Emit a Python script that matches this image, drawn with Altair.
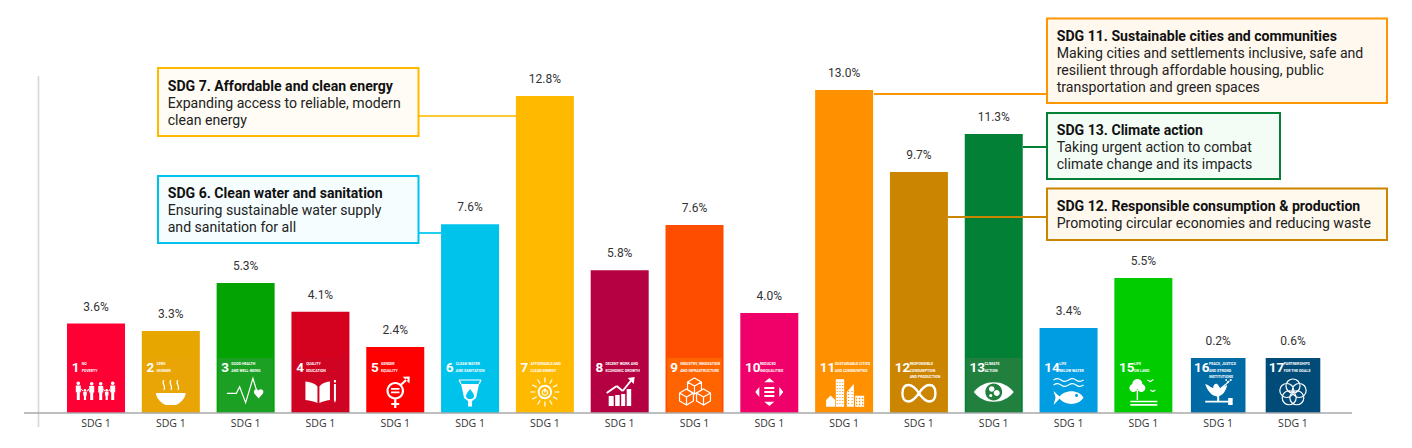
import math
import altair as alt
import pandas as pd

# ---- data ----
sdg_ids = list(range(1, 18))
# bar heights; printed labels are kept separately
bar_heights = [3.6, 3.3, 5.23, 4.08, 2.66, 7.6, 12.76, 5.75, 7.57, 4.02, 13.0, 9.7, 11.23, 3.42, 5.43, 0.2, 0.6]
value_labels = ["3.6%", "3.3%", "5.3%", "4.1%", "2.4%", "7.6%", "12.8%", "5.8%", "7.6%", "4.0%",
                "13.0%", "9.7%", "11.3%", "3.4%", "5.5%", "0.2%", "0.6%"]
tick_label = "SDG 1"
bar_colors = ["#FF0035", "#E8A600", "#03A303", "#D4011F", "#FF0000", "#00C3EC", "#FFBA00", "#B50041", "#FF4D00",
              "#F00069", "#FF9100", "#CC8500", "#028136", "#009DE2", "#00CC00", "#006AA5", "#004B77"]
tile_colors = ["#FF0035", "#E8A505", "#1BA024", "#CF0423", "#FF0000", "#00C3EC", "#FFBA00", "#B50041", "#FF6400",
               "#F00069", "#FF9100", "#CC8500", "#22803F", "#009DE2", "#00CC00", "#006AA5", "#004B77"]
tile_line1 = ["NO", "ZERO", "GOOD HEALTH", "QUALITY", "GENDER", "CLEAN WATER", "AFFORDABLE AND", "DECENT WORK AND",
              "INDUSTRY, INNOVATION", "REDUCED", "SUSTAINABLE CITIES", "RESPONSIBLE", "CLIMATE", "LIFE", "LIFE",
              "PEACE, JUSTICE", "PARTNERSHIPS"]
tile_line2 = ["POVERTY", "HUNGER", "AND WELL-BEING", "EDUCATION", "EQUALITY", "AND SANITATION", "CLEAN ENERGY",
              "ECONOMIC GROWTH", "AND INFRASTRUCTURE", "INEQUALITIES", "AND COMMUNITIES", "CONSUMPTION", "ACTION",
              "BELOW WATER", "ON LAND", "AND STRONG", "FOR THE GOALS"]
tile_line3 = ["", "", "", "", "", "", "", "", "", "", "", "AND PRODUCTION", "", "", "", "INSTITUTIONS", ""]

callout_text = {
    "sdg7": ["SDG 7. Affordable and clean energy", "Expanding access to reliable, modern", "clean energy"],
    "sdg6": ["SDG 6. Clean water and sanitation", "Ensuring sustainable water supply", "and sanitation for all"],
    "sdg11": ["SDG 11. Sustainable cities and communities", "Making cities and settlements inclusive, safe and",
              "resilient through affordable housing, public", "transportation and green spaces"],
    "sdg13": ["SDG 13. Climate action", "Taking urgent action to combat", "climate change and its impacts"],
    "sdg12": ["SDG 12. Responsible consumption & production", "Promoting circular economies and reducing waste"],
}

# ---- icon glyph helpers (pixel offsets around the tile centre; symbol size 4 = 1:1) ----
def f(v):
    return f"{v:.2f}"

def poly(*pts):
    return "M" + "L".join(f"{f(x)},{f(y)}" for x, y in pts) + "Z"

def rect(x0, y0, x1, y1):
    return poly((x0, y0), (x1, y0), (x1, y1), (x0, y1))

def hole(x0, y0, x1, y1):
    return poly((x0, y0), (x0, y1), (x1, y1), (x1, y0))

def circ(cx, cy, r, rev=False):
    k = 0.5523 * r
    s = -1 if rev else 1
    return (f"M{f(cx+r)},{f(cy)}"
            f"C{f(cx+r)},{f(cy+s*k)} {f(cx+k)},{f(cy+s*r)} {f(cx)},{f(cy+s*r)}"
            f"C{f(cx-k)},{f(cy+s*r)} {f(cx-r)},{f(cy+s*k)} {f(cx-r)},{f(cy)}"
            f"C{f(cx-r)},{f(cy-s*k)} {f(cx-k)},{f(cy-s*r)} {f(cx)},{f(cy-s*r)}"
            f"C{f(cx+k)},{f(cy-s*r)} {f(cx+r)},{f(cy-s*k)} {f(cx+r)},{f(cy)}Z")

def ring(cx, cy, r0, r1):
    return circ(cx, cy, r0) + circ(cx, cy, r1, True)

def line(x0, y0, x1, y1, w):
    dx, dy = x1 - x0, y1 - y0
    n = math.hypot(dx, dy) or 1
    px, py = -dy / n * w / 2, dx / n * w / 2
    return poly((x0 + px, y0 + py), (x1 + px, y1 + py), (x1 - px, y1 - py), (x0 - px, y0 - py))

def person(cx, top, bot, w):
    r = w * 0.36
    mid = top + (bot - top) * 0.58
    return circ(cx, top + r, r) + poly((cx - w / 2, top + 2.2 * r), (cx + w / 2, top + 2.2 * r),
                                       (cx + w / 2, mid), (cx + w * .3, mid),
                                       (cx + w * .3, bot), (cx - w * .3, bot), (cx - w * .3, mid),
                                       (cx - w / 2, mid))

def cube(cx, cy, s):
    a = 0.87 * s
    h = s / 2
    return (f"M{f(cx)},{f(cy-s)}L{f(cx+a)},{f(cy-h)}L{f(cx+a)},{f(cy+h)}L{f(cx)},{f(cy+s)}"
            f"L{f(cx-a)},{f(cy+h)}L{f(cx-a)},{f(cy-h)}Z"
            f"M{f(cx-a)},{f(cy-h)}L{f(cx)},{f(cy)}L{f(cx+a)},{f(cy-h)}M{f(cx)},{f(cy)}L{f(cx)},{f(cy+s)}")

def rays(r0, r1, n):
    out = ""
    for i in range(n):
        a = 2 * math.pi * i / n
        out += f"M{f(r0*math.cos(a))},{f(r0*math.sin(a))}L{f(r1*math.cos(a))},{f(r1*math.sin(a))}"
    return out

def windows(x0, x1, y0, y1, nx, ny, w):
    out = ""
    for i in range(nx):
        for j in range(ny):
            cx = x0 + (x1 - x0) * (i + .5) / nx
            cy = y0 + (y1 - y0) * (j + .5) / ny
            out += hole(cx - w / 2, cy - w / 2, cx + w / 2, cy + w / 2)
    return out

fill_icons = [
    person(-17.7, -10.5, 8, 5) + person(-4.3, -10, 8, 5) + person(4.7, -10, 8, 5) + person(16.7, -10.5, 8, 5)
    + person(-11, -3, 8, 3.6) + person(10.7, -3, 8, 3.6)
    + line(-15, -3, -13, -1, 1) + line(-9, -1, -6.5, -3, 1) + line(7, -3, 9, -1, 1) + line(12.5, -1, 14.5, -3, 1),
    "M-15,1L15,1C14,8 8,12 5,13L-5,13C-8,12 -14,8 -15,1Z",
    "M13,6.5L8.7,1.5C7,-2 11,-4.5 13,-1.5C15,-4.5 19,-2 17.3,1.5Z",
    "M-3,-5.5C-6,-9 -10,-10 -15,-10.5L-15,8C-10,8.5 -6,9.5 -3,11Z"
    "M-1,-5.5C2,-9 5,-10 9.5,-10.5L9.5,8C5,8.5 2,9.5 -1,11Z"
    + poly((13.5, -8), (15.5, -8), (15.5, 8), (14.5, 11), (13.5, 8)) + rect(13.5, -12, 15.5, -9.5),
    ring(0, -1.3, 8.8, 6.6) + rect(-4.2, -4, 4.2, -2.2) + rect(-4.2, -0.6, 4.2, 1.2)
    + line(0, 7.5, 0, 16, 2.2) + line(-4, 12, 4, 12, 2.2) + line(6, -7.5, 12, -13, 2.2)
    + poly((7.5, -15.2), (14.5, -15.5), (14.2, -8.5)),
    "M-9,-8L9,-8L6,6L2,9L2,14.5L-2,14.5L-2,9L-6,6Z"
    "M0,-3C-3,1 -4,2.5 -4,4C-4,6.5 -1.5,7 0,7C1.5,7 4,6.5 4,4C4,2.5 3,1 0,-3Z",
    ring(0, 0, 7.2, 5.2) + ring(0, 0.5, 3.2, 2.1) + rect(-0.7, -3.5, 0.7, 0.5),
    rect(-11, 4, -6, 14) + rect(-4.5, 3, 0, 14) + rect(1.5, 2, 5.5, 14) + rect(7, -3, 11.5, 14)
    + line(-13, 1, -3, -6, 2) + line(-3, -6, 3, -1, 2) + line(3, -1, 11, -11, 2) + poly((8, -14), (15, -15), (14, -8)),
    None,
    poly((-5, -9.7), (0, -14), (5, -9.7)) + poly((-5, 9.7), (5, 9.7), (0, 14))
    + poly((-10, -5), (-10, 5), (-14, 0)) + poly((10, -5), (14, 0), (10, 5))
    + rect(-5, -5, 5, -3) + rect(-5, -1, 5, 1) + rect(-5, 3, 5, 5),
    poly((-18, 8), (-13.5, 3.5), (-9, 8), (-9, 14.7), (-18, 14.7))
    + rect(-8.3, -12.7, 0, 14.7) + windows(-8.3, 0, -11, 13, 3, 8, 1.1)
    + poly((2.7, 0), (9.7, -8), (9.7, 14.7), (2.7, 14.7)) + windows(2.7, 9.7, -2, 13, 2, 5, 1.1)
    + rect(11, 3.7, 20, 14.7) + windows(11, 20, 5, 14, 3, 3, 1.3),
    None,
    "M-20,0C-10,-13 10,-13 20,0C10,13 -10,13 -20,0Z" + circ(0, 0, 8.4, True)
    + circ(-2, -3, 2.8) + circ(3, 1, 3) + circ(-3, 3.5, 1.6),
    "M-10,5.5C-4,-3 10,-3 15,5.5C10,14 -4,14 -10,5.5Z" + circ(8, 3.5, 1.5, True)
    + poly((-15, -1), (-8, 5.5), (-15, 13), (-13, 5.5)),
    circ(-6, -8, 5) + circ(-10, -4, 4) + circ(-2, -4, 4) + rect(-6.7, -2, -5.3, 8)
    + rect(-13, 8.7, 14, 10.3) + rect(-13, 12, 14, 13.7),
    "M-13,-8C-9,-7 -7,-4 -5,-4C-5,-7 -3,-9 -1,-8C1,-6 1,-5 2,-4L9,-7C8,-2 5,4 -1,4.5C-7,4 -11,-2 -13,-8Z"
    + rect(-13, 8.8, 10, 10.4) + rect(10, 6, 14.5, 13) + rect(-1, 4, 1, 9)
    + circ(10, -10, 1) + circ(12.5, -12, 1) + circ(8, -12, 0.9),
    None,
]
stroke_icons = [
    None,
    "M-7,-12C-10,-8 -4,-6 -7,-2M0,-12C-3,-8 3,-6 0,-2M7,-12C4,-8 10,-6 7,-2",
    "M-18.7,1.3L-9.3,1.3L-6,-5.3L0,10.7L7.3,-13.7L12,2",
    None,
    None,
    "M-11,-12L11,-12M-11,-12L-9,-8M11,-12L9,-8",
    rays(9.5, 14.5, 12),
    None,
    cube(0, -6, 8) + cube(9, 5, 8) + cube(-8, 5, 8),
    None,
    None,
    None,
    None,
    "M-15,-12C-12,-14 -10,-14 -7.5,-12C-5,-10 -3,-10 0,-12C3,-14 5,-14 7.5,-12C10,-10 12,-10 15,-12"
    "M-15,-7C-12,-9 -10,-9 -7.5,-7C-5,-5 -3,-5 0,-7C3,-9 5,-9 7.5,-7C10,-5 12,-5 15,-7",
    "M4,-12L7,-10.5L10,-12.5M7,-2L9.5,-0.5L12,-2",
    "M3,-4L8,-8L11,-11",
    "".join(circ(6.5 * math.cos(math.radians(-90 + 72 * k)), 0.5 + 6.5 * math.sin(math.radians(-90 + 72 * k)), 7)
            for k in range(5)),
]
infinity = ("M0,1.3C-4,-5 -8,-7 -10.5,-7C-15,-7 -16.5,-3 -16.5,1.3C-16.5,6 -15,9.5 -10.5,9.5C-8,9.5 -4,7 0,1.3"
            "C4,-5 8,-7 10.5,-7C15,-7 16.5,-3 16.5,1.3C16.5,6 15,9.5 10.5,9.5C8,9.5 4,7 0,1.3Z")

# ---- tables ----
df = pd.DataFrame({
    "id": sdg_ids, "value": bar_heights, "label": value_labels, "bar": bar_colors, "tile": tile_colors,
    "l1": tile_line1, "l2": tile_line2, "l3": tile_line3,
})
df["num"] = df["id"].astype(str)
TILE_TOP = 55 / 24.85
df["tile_top"] = TILE_TOP
df["zero"] = 0.0
df["label_y"] = df["value"].clip(lower=TILE_TOP)

X_SCALE = alt.Scale(domain=sdg_ids, range=[50.6, 1322.4], paddingInner=0.2246, paddingOuter=0.1123)
Y_SCALE = alt.Scale(domain=[0, 16.3], nice=False)
x_enc = alt.X("id:O", scale=X_SCALE, title=None, sort=None,
              axis=alt.Axis(domain=False, ticks=False, grid=False, labelAngle=0, labelPadding=5,
                            labelExpr=f"'{tick_label}'", labelFont="Open Sans", labelFontSize=10.5,
                            labelColor="#333333"))
y_enc = alt.Y("value:Q", scale=Y_SCALE, axis=None)

one = pd.DataFrame({"a": [0]})

def hrule(x0, x1, y, color, width):
    return alt.Chart(one).mark_rule(color=color, strokeWidth=width).encode(
        x=alt.value(x0 - 8), x2=alt.value(x1 - 8), y=alt.value(y - 8))

def vrule(x, y0, y1, color, width):
    return alt.Chart(one).mark_rule(color=color, strokeWidth=width).encode(
        x=alt.value(x - 8), y=alt.value(y0 - 8), y2=alt.value(y1 - 8))

def callout(key, x0, y0, x1, y1, stroke, fill, first_y):
    layers = [alt.Chart(one).mark_rect(stroke=stroke, strokeWidth=2, fill=fill).encode(
        x=alt.value(x0 - 8), x2=alt.value(x1 - 8), y=alt.value(y0 - 8), y2=alt.value(y1 - 8))]
    for i, t in enumerate(callout_text[key]):
        layers.append(alt.Chart(pd.DataFrame({"t": [t]})).mark_text(
            align="left", baseline="middle", font="Roboto", fontSize=14.1,
            fontWeight="bold" if i == 0 else "normal", color="#111111" if i == 0 else "#222222"
        ).encode(x=alt.value(x0 + 9.7 - 8), y=alt.value(first_y + 17 * i - 7), text="t:N"))
    return layers

layers = [vrule(38.5, 76, 427, "#D6D6D6", 1.6)]

# bars taller than their tile
layers.append(alt.Chart(df).mark_bar(size=58).encode(
    x=x_enc, y=y_enc, y2="zero:Q", color=alt.Color("bar:N", scale=None),
    opacity=alt.condition(f"datum.value > {TILE_TOP}", alt.value(1), alt.value(0))))
# tiles
layers.append(alt.Chart(df).mark_bar(size=54.6).encode(
    x=x_enc, y=alt.Y("tile_top:Q", scale=Y_SCALE, axis=None), y2="zero:Q",
    color=alt.Color("tile:N", scale=None)))

layers.append(hrule(24, 1352, 413, "#A8A8A8", 1.4))

# value labels
layers.append(alt.Chart(df).mark_text(
    font="Roboto", fontSize=12, color="#333333", baseline="middle", dy=-16.8
).encode(x=x_enc, y=alt.Y("label_y:Q", scale=Y_SCALE, axis=None), text="label:N"))

# tile numbers and captions
TILE_FONT = "Roboto"
for cond_num, dx_cap in [("datum.id < 10", -14.3), ("datum.id >= 10", -9.3)]:
    layers.append(alt.Chart(df).transform_filter(cond_num).mark_text(
        font=TILE_FONT, fontSize=13.5, fontWeight="bold", color="white", align="left", baseline="middle", dx=-24.3
    ).encode(x=x_enc, y=alt.value(360), text="num:N"))
    for col, py in [("l1", 364.3), ("l2", 370.7), ("l3", 377.1)]:
        layers.append(alt.Chart(df).transform_filter(cond_num).mark_text(
            font=TILE_FONT, fontSize=3.6, fontWeight="bold", color="white", align="left", baseline="middle", dx=dx_cap
        ).encode(x=x_enc, y=alt.value(py - 8), text=f"{col}:N"))

# icons
for i, path in zip(sdg_ids, fill_icons):
    if path:
        layers.append(alt.Chart(df).transform_filter(f"datum.id == {i}").mark_point(
            filled=True, size=4, opacity=1, fill="white", strokeWidth=0, shape=path
        ).encode(x=x_enc, y=alt.value(384)))
for i, path in zip(sdg_ids, stroke_icons):
    if path:
        layers.append(alt.Chart(df).transform_filter(f"datum.id == {i}").mark_point(
            filled=False, size=4, opacity=1, stroke="white", strokeWidth=1.2, shape=path
        ).encode(x=x_enc, y=alt.value(384)))
layers.append(alt.Chart(df).transform_filter("datum.id == 12").mark_point(
    filled=False, size=4, opacity=1, stroke="white", strokeWidth=2.4, shape=infinity
).encode(x=x_enc, y=alt.value(384)))

# connectors and call-outs
layers += [hrule(418, 516, 116, "#FFC933", 2), hrule(418, 441, 233, "#22CDF0", 2),
           hrule(874, 1047, 94, "#FF9500", 2), hrule(1023, 1047, 147, "#028136", 2),
           hrule(948, 1047, 217, "#CC8500", 2)]
layers += callout("sdg7", 158, 68, 418.5, 136, "#FFBA00", "#FFFCF5", 86)
layers += callout("sdg6", 158, 176, 418.5, 243, "#00C3EC", "#F5FDFF", 193)
layers += callout("sdg11", 1047, 18.5, 1387, 103, "#FF9500", "#FFF8EE", 36)
layers += callout("sdg13", 1047, 113, 1280, 179, "#028136", "#F3FDF6", 130)
layers += callout("sdg12", 1047, 188.5, 1387, 240, "#CC8500", "#FFF8EC", 206)

chart = alt.layer(*layers).properties(
    width=1396, height=405, autosize=alt.AutoSizeParams(type="none"),
    padding={"left": 0, "top": 0, "right": 0, "bottom": 27}, background="white",
).configure_view(stroke=None)

chart.save("out.html", embed_options={"renderer": "svg", "actions": False})
